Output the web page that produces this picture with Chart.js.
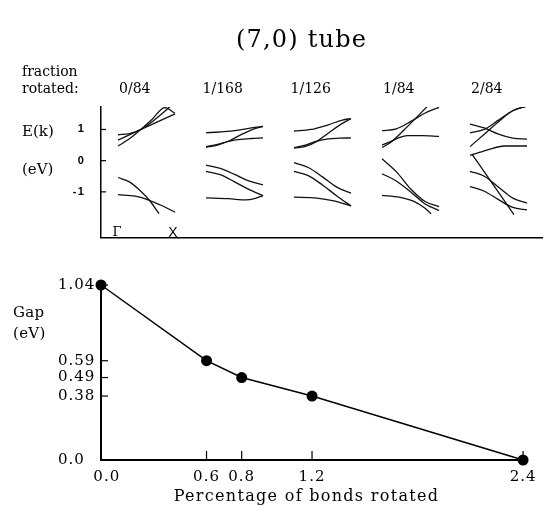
<!DOCTYPE html>
<html><head><meta charset="utf-8">
<script src="https://cdn.jsdelivr.net/npm/chart.js@4.4.1/dist/chart.umd.min.js"></script>
<style>
html,body{margin:0;padding:0;background:#fff;}
#wrap{position:relative;width:543px;height:508px;overflow:hidden;}
#c1{position:absolute;left:0;top:0;width:543px;height:260px;}
#c2{position:absolute;left:0;top:260px;width:543px;height:248px;}
</style></head><body>
<div id="wrap"><canvas id="c1" width="543" height="260"></canvas><canvas id="c2" width="543" height="248"></canvas></div>
<script>
// ---------- DATA ----------
const fractions = ['0/84', '1/168', '1/126', '1/84', '2/84'];
const energyTicks = [-1, 0, 1];

// band structures, [k (0 = Γ, 1 = X), E (eV)]
const bands_0_84 = [
  [[0,0.83],[0.2,0.87],[0.4,1.0],[0.6,1.25],[0.8,1.55],[0.92,1.75]],
  [[0,0.66],[0.5,1.08],[1,1.5]],
  [[0,0.47],[0.2,0.7],[0.4,1.0],[0.6,1.33],[0.82,1.7],[1,1.52]],
  [[0,-0.54],[0.2,-0.68],[0.4,-0.98],[0.55,-1.27],[0.72,-1.70]],
  [[0,-1.09],[0.3,-1.14],[0.55,-1.27],[0.8,-1.47],[1,-1.65]]
];
const bands_1_168 = [
  [[0,0.89],[0.5,0.96],[0.8,1.05],[1,1.10]],
  [[0,0.43],[0.2,0.5],[0.4,0.63],[0.6,0.82],[0.8,0.99],[1,1.10]],
  [[0,0.45],[0.2,0.52],[0.4,0.62],[0.6,0.68],[0.8,0.71],[1,0.73]],
  [[0,-0.14],[0.25,-0.25],[0.5,-0.44],[0.75,-0.65],[1,-0.78]],
  [[0,-0.34],[0.25,-0.45],[0.5,-0.68],[0.75,-0.92],[1,-1.12]],
  [[0,-1.19],[0.4,-1.22],[0.7,-1.26],[0.85,-1.22],[1,-1.12]]
];
const bands_1_126 = [
  [[0,0.95],[0.3,1.0],[0.6,1.15],[0.85,1.3],[1,1.35]],
  [[0,0.40],[0.2,0.46],[0.4,0.62],[0.6,0.88],[0.8,1.14],[1,1.35]],
  [[0,0.42],[0.2,0.5],[0.4,0.63],[0.6,0.70],[0.8,0.72],[1,0.73]],
  [[0,-0.06],[0.25,-0.22],[0.5,-0.52],[0.75,-0.85],[1,-1.04]],
  [[0,-0.34],[0.25,-0.48],[0.5,-0.78],[0.75,-1.13],[1,-1.45]],
  [[0,-1.17],[0.4,-1.2],[0.7,-1.29],[1,-1.45]]
];
const bands_1_84 = [
  [[0,0.96],[0.25,1.02],[0.5,1.25],[0.75,1.52],[1,1.71]],
  [[0,0.42],[0.15,0.58],[0.45,1.1],[0.8,1.75]],
  [[0,0.50],[0.15,0.61],[0.3,0.74],[0.45,0.80],[0.7,0.80],[1,0.78]],
  [[0,0.06],[0.25,-0.35],[0.5,-0.9],[0.75,-1.3],[1,-1.47]],
  [[0,-0.42],[0.25,-0.65],[0.5,-1.0],[0.75,-1.38],[1,-1.6]],
  [[0,-1.11],[0.3,-1.17],[0.55,-1.3],[0.75,-1.52],[0.86,-1.7]]
];
const bands_2_84 = [
  [[0,1.17],[0.25,1.05],[0.5,0.85],[0.75,0.72],[1,0.69]],
  [[0,0.89],[0.25,1.0],[0.5,1.3],[0.75,1.6],[1,1.75]],
  [[0,0.45],[0.25,0.85],[0.5,1.25],[0.75,1.6],[1,1.75]],
  [[0,0.17],[0.3,0.34],[0.6,0.47],[1,0.47]],
  [[0.03,0.22],[0.4,-0.75],[0.77,-1.73]],
  [[0,-0.34],[0.25,-0.5],[0.5,-0.85],[0.75,-1.2],[1,-1.36]],
  [[0,-0.83],[0.25,-0.98],[0.5,-1.25],[0.75,-1.5],[1,-1.58]]
];
const panels = [bands_0_84, bands_1_168, bands_1_126, bands_1_84, bands_2_84];

// gap vs percentage of bonds rotated
const percentRotated = [0.0, 0.6, 0.8, 1.2, 2.4];
const gapEV = [1.04, 0.59, 0.49, 0.38, 0.0];
const gapTicks = [0.0, 0.38, 0.49, 0.59, 1.04];

// ---------- STYLE ----------
const SERIF = '"DejaVu Serif", serif';
const SANS = '"Liberation Sans", Arial, sans-serif';
const PANEL_W = 0.648;  // width of one Γ–X panel in panel units

// ---------- UPPER CHART ----------
const bandSets = [];
panels.forEach((bands, p) => {
  bands.forEach(b => {
    bandSets.push({
      data: b.map(([k, E]) => ({x: p + k * PANEL_W, y: E})),
      borderColor: '#111', borderWidth: 1.3, pointRadius: 0,
      cubicInterpolationMode: 'monotone', fill: false
    });
  });
});

const upperText = {
  id: 'upperText',
  beforeDraw(chart) { chart.ctx.letterSpacing = '1.2px'; },
  afterDraw(chart) {
    const ctx = chart.ctx, xs = chart.scales.x, ys = chart.scales.y, ca = chart.chartArea;
    ctx.save();
    ctx.letterSpacing = '0px';
    ctx.fillStyle = '#000';
    ctx.strokeStyle = '#000';
    ctx.lineWidth = 1.2;
    energyTicks.forEach(v => {
      const y = ys.getPixelForValue(v);
      ctx.beginPath(); ctx.moveTo(ca.left, y); ctx.lineTo(ca.left + 5, y); ctx.stroke();
    });
    ctx.textBaseline = 'middle';
    ctx.textAlign = 'left';
    ctx.font = '14px ' + SERIF;
    ctx.fillText('fraction', 22, 72);
    ctx.fillText('rotated:', 22, 89);
    ctx.textAlign = 'center';
    fractions.forEach((f, i) => ctx.fillText(f, xs.getPixelForValue(i + 0.19), 89));
    ctx.textAlign = 'left';
    ctx.font = '15px ' + SERIF;
    ctx.fillText('E(k)', 22, 132);
    ctx.fillText('(eV)', 22, 170);
    ctx.textAlign = 'center';
    ctx.font = '13px ' + SERIF;
    ctx.fillText('Γ', xs.getPixelForValue(0) - 1, 233);
    ctx.font = '14px ' + SANS;
    ctx.fillText('X', xs.getPixelForValue(PANEL_W) - 2, 233);
    ctx.restore();
  }
};

new Chart(document.getElementById('c1'), {
  type: 'line',
  data: {datasets: bandSets},
  plugins: [upperText],
  options: {
    responsive: false, animation: false,
    layout: {padding: {left: 60, right: 0, top: 0, bottom: 17}},
    plugins: {
      legend: {display: false}, tooltip: {enabled: false},
      title: {display: true, text: '(7,0) tube', color: '#000',
        font: {family: SERIF, size: 24, weight: 'normal'},
        padding: {top: 26, bottom: 52.2}}
    },
    scales: {
      x: {type: 'linear', min: -0.1932, max: 4.8295,
        ticks: {display: false},
        grid: {drawOnChartArea: false, drawTicks: false},
        border: {display: true, color: '#000', width: 1.5},
        afterFit(s) { s.height = 0; }},
      y: {type: 'linear', min: -2.46, max: 1.72,
        afterBuildTicks(s) { s.ticks = energyTicks.map(v => ({value: v})); },
        ticks: {callback: v => String(v), color: '#000', padding: 16, autoSkip: false,
          font: {family: SANS, size: 11, weight: 'bold'}},
        grid: {drawOnChartArea: false, drawTicks: false},
        border: {display: true, color: '#000', width: 1.5},
        afterFit(s) { s.width = 41; }}
    }
  }
});

// ---------- LOWER CHART ----------
const lowerText = {
  id: 'lowerText',
  beforeDraw(chart) { chart.ctx.letterSpacing = '1px'; },
  afterDraw(chart) {
    const ctx = chart.ctx, xs = chart.scales.x, ys = chart.scales.y, ca = chart.chartArea;
    ctx.save();
    ctx.strokeStyle = '#000';
    ctx.lineWidth = 1.2;
    percentRotated.forEach(v => {
      const x = xs.getPixelForValue(v);
      ctx.beginPath(); ctx.moveTo(x, ca.bottom); ctx.lineTo(x, ca.bottom - 9); ctx.stroke();
    });
    gapTicks.forEach(v => {
      const y = ys.getPixelForValue(v);
      ctx.beginPath(); ctx.moveTo(ca.left, y); ctx.lineTo(ca.left + 7, y); ctx.stroke();
    });
    ctx.fillStyle = '#000';
    ctx.textBaseline = 'middle';
    ctx.textAlign = 'left';
    ctx.letterSpacing = '0.3px';
    ctx.font = '15px ' + SERIF;
    ctx.fillText('Gap', 13, 53);
    ctx.fillText('(eV)', 13, 74);
    // x-axis title
    ctx.letterSpacing = '1.3px';
    ctx.textAlign = 'center';
    ctx.font = '16px ' + SERIF;
    ctx.fillText('Percentage of bonds rotated', 306.5, 237);
    ctx.restore();
  }
};

new Chart(document.getElementById('c2'), {
  type: 'line',
  data: {datasets: [{
    data: percentRotated.map((p, i) => ({x: p, y: gapEV[i]})),
    borderColor: '#000', borderWidth: 1.5, tension: 0,
    pointRadius: 5.5, pointBackgroundColor: '#000', pointBorderWidth: 0,
    clip: false
  }]},
  plugins: [lowerText],
  options: {
    responsive: false, animation: false,
    layout: {padding: {left: 58, right: 15, top: 25, bottom: 0}},
    plugins: {legend: {display: false}, tooltip: {enabled: false}},
    scales: {
      x: {type: 'linear', min: 0, max: 2.4,
        afterBuildTicks(s) { s.ticks = percentRotated.map(v => ({value: v})); },
        ticks: {callback: v => (v === 0 ? '  0.0' : v.toFixed(1)), color: '#000', padding: 8, autoSkip: false, maxRotation: 0,
          font: {family: SERIF, size: 15}},
        grid: {drawOnChartArea: false, drawTicks: false},
        border: {display: true, color: '#000', width: 2},
        afterFit(s) { s.height = 48; }},
      y: {type: 'linear', min: 0, max: 1.04,
        afterBuildTicks(s) { s.ticks = gapTicks.map(v => ({value: v})); },
        ticks: {callback: v => (v === 0 ? '0.0' : v.toFixed(2)), color: '#000', padding: 8, autoSkip: false,
          crossAlign: 'far', font: {family: SERIF, size: 15}},
        grid: {drawOnChartArea: false, drawTicks: false},
        border: {display: true, color: '#000', width: 2},
        afterFit(s) { s.width = 43; }}
    }
  }
});
</script>
</body></html>
